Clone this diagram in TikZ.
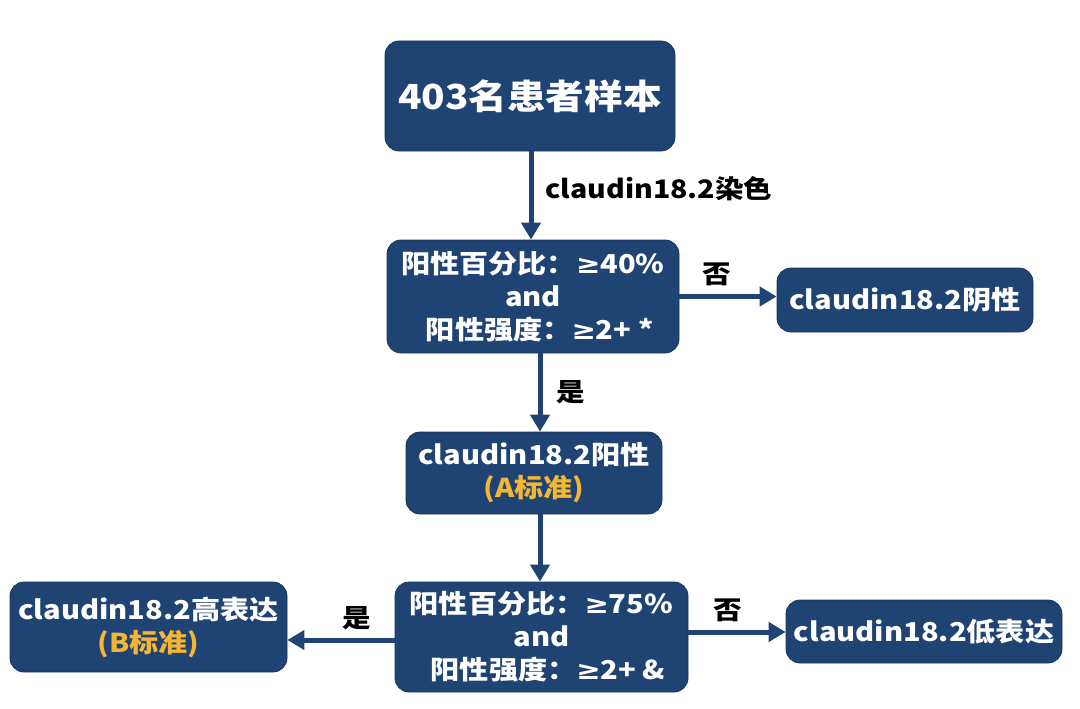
\documentclass[tikz,border=0pt]{standalone}
\usepackage{fontspec}
\setmainfont{Noto Sans CJK SC}[FakeStretch=1.12]
\newfontfamily\symfont{DejaVu Sans}[FakeStretch=1.12]
\newcommand{\mygeq}{{\symfont\bfseries ≥}}
\usetikzlibrary{arrows.meta,calc}
\definecolor{boxblue}{RGB}{31,67,115}
\definecolor{lblorange}{RGB}{245,182,51}
\tikzset{
  box/.style={draw=boxblue!80!black, line width=0.8pt, fill=boxblue, rounded corners=14pt, text=white, font=\bfseries\fontsize{26}{33}\selectfont, align=center, inner sep=0pt},
  conn/.style={draw=boxblue, line width=5pt, -{Triangle[width=19pt,length=17pt]}},
  lbl/.style={text=black, font=\bfseries\fontsize{25.5}{30}\selectfont, inner sep=0pt}
}
\begin{document}
\begin{tikzpicture}[x=1pt,y=-1pt]
\useasboundingbox (0,0) rectangle (1080,709);
\fill[white] (0,0) rectangle (1080,709);
\node[box, minimum width=290pt, minimum height=110pt, font=\bfseries\fontsize{34.5}{40}\selectfont] (top) at (530,96) {403名患者样本};
\node[box, minimum width=292pt, minimum height=113pt] (q1) at (533,296.5) {阳性百分比：\mygeq40\%\\and\\\ \ 阳性强度：\mygeq2+ *};
\node[box, minimum width=256pt, minimum height=64pt] (neg) at (905,300) {claudin18.2阴性};
\node[box, minimum width=256pt, minimum height=82pt] (pos) at (534,473) {claudin18.2阳性\\\textcolor{lblorange}{(A标准)}};
\node[box, minimum width=293pt, minimum height=110pt] (q2) at (541.5,637) {阳性百分比：\mygeq75\%\\and\\\ \ 阳性强度：\mygeq2+ \&};
\node[box, minimum width=277pt, minimum height=90pt] (high) at (148.5,627) {claudin18.2高表达\\\textcolor{lblorange}{(B标准)}};
\node[box, minimum width=276pt, minimum height=63pt] (low) at (924,631.5) {claudin18.2低表达};

\draw[conn] ([xshift=1pt]top.south) -- ([xshift=1pt]top.south |- q1.north) node[lbl, midway, right=12pt, yshift=7pt] (l0) {claudin18.2染色};
\draw[conn] (q1.east) -- (q1.east -| neg.west) node[lbl, pos=0.38, above=8pt] (l1) {否};
\draw[conn] ([xshift=7pt]q1.south) -- ([xshift=7pt]q1.south |- pos.north) node[lbl, pos=0.5, right=14pt] (l2) {是};
\draw[conn] ([xshift=6pt]pos.south) -- ([xshift=6pt]pos.south |- q2.north);
\draw[conn] ([yshift=-3pt]q2.west) -- ([yshift=-3pt]q2.west -| high.east) node[lbl, pos=0.35, above=8pt] (l3) {是};
\draw[conn] ([yshift=5pt]q2.east) -- ([yshift=5pt]q2.east -| low.west) node[lbl, pos=0.4, above=8pt] (l4) {否};
\end{tikzpicture}
\end{document}
